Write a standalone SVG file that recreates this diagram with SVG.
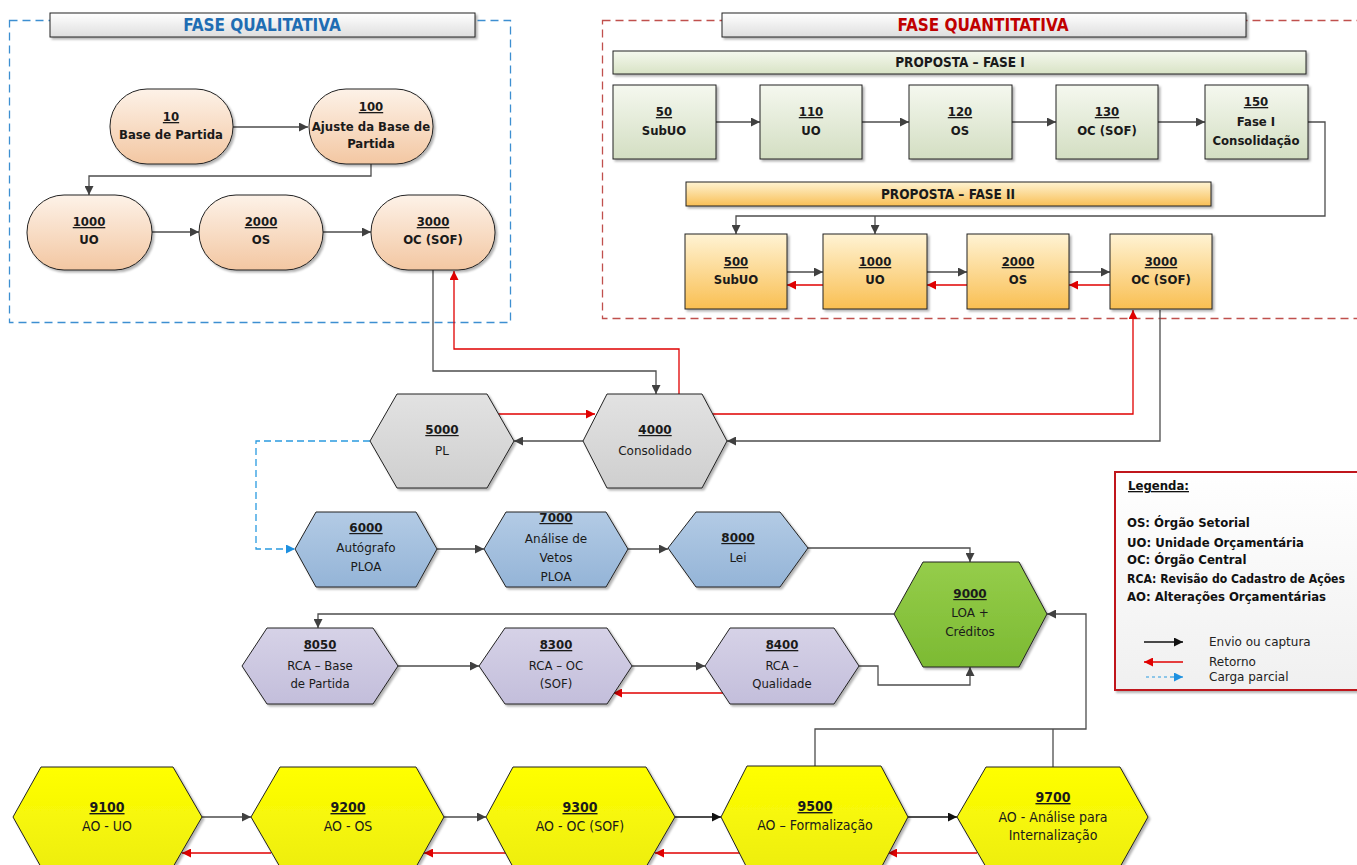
<svg xmlns="http://www.w3.org/2000/svg" width="1357" height="865" viewBox="0 0 1357 865">
<style>
.b{font-family:'Liberation Sans Narrow','DejaVu Sans Condensed','Liberation Sans',sans-serif;font-weight:bold;font-size:13px;fill:#1a1a1a;text-anchor:middle}
.n{font-family:'DejaVu Sans','Liberation Sans',sans-serif;font-size:12px;fill:#1a1a1a;text-anchor:middle}
.nn{font-family:'Liberation Sans Narrow','DejaVu Sans Condensed','Liberation Sans',sans-serif;font-size:13px;fill:#1a1a1a;text-anchor:middle}
.ny{font-family:'Liberation Sans Narrow','DejaVu Sans Condensed','Liberation Sans',sans-serif;font-size:14px;fill:#1a1a1a;text-anchor:middle}
.u{text-decoration:underline;font-weight:bold}
.sh{stroke:#222;stroke-width:1;filter:url(#ds)}
.c{fill:none;stroke:#4d4d4d;stroke-width:1.3}
.r{fill:none;stroke:#e00000;stroke-width:1.3}
.bl{fill:none;stroke:#2a9be0;stroke-width:1.3;stroke-dasharray:7 4}
.lg{font-family:'Liberation Sans Narrow','DejaVu Sans Condensed','Liberation Sans',sans-serif;font-weight:bold;font-size:13px;fill:#111}
.lt{font-family:'DejaVu Sans','Liberation Sans',sans-serif;font-size:12px;fill:#222}
.tt{font-family:'Liberation Sans Narrow','DejaVu Sans Condensed','Liberation Sans',sans-serif;font-weight:bold;font-size:17px;text-anchor:middle}
</style>
<defs>
<filter id="ds" x="-10%" y="-10%" width="130%" height="130%"><feDropShadow dx="2" dy="2" stdDeviation="1.2" flood-color="#000" flood-opacity="0.3"/></filter>
<linearGradient id="gPeach" x1="0" y1="0" x2="0" y2="1"><stop offset="0" stop-color="#fdf2e8"/><stop offset="1" stop-color="#f3c7a2"/></linearGradient>
<linearGradient id="gGreenBox" x1="0" y1="0" x2="0" y2="1"><stop offset="0" stop-color="#f5f8ef"/><stop offset="1" stop-color="#d3dec2"/></linearGradient>
<linearGradient id="gOrange" x1="0" y1="0" x2="0" y2="1"><stop offset="0" stop-color="#fff3d4"/><stop offset="1" stop-color="#f9bf52"/></linearGradient>
<linearGradient id="gTitle" x1="0" y1="0" x2="0" y2="1"><stop offset="0" stop-color="#ffffff"/><stop offset="1" stop-color="#dedede"/></linearGradient>
<linearGradient id="gBar1" x1="0" y1="0" x2="0" y2="1"><stop offset="0" stop-color="#f5f8ee"/><stop offset="1" stop-color="#d8e3c5"/></linearGradient>
<linearGradient id="gBar2" x1="0" y1="0" x2="0" y2="1"><stop offset="0" stop-color="#fef3d2"/><stop offset="1" stop-color="#f9bf55"/></linearGradient>
<linearGradient id="gGray" x1="0" y1="0" x2="0" y2="1"><stop offset="0" stop-color="#e2e2e2"/><stop offset="1" stop-color="#cfcfcf"/></linearGradient>
<linearGradient id="gBlue" x1="0" y1="0" x2="0" y2="1"><stop offset="0" stop-color="#b3cbe5"/><stop offset="1" stop-color="#94b4d7"/></linearGradient>
<linearGradient id="gLav" x1="0" y1="0" x2="0" y2="1"><stop offset="0" stop-color="#d6d2e7"/><stop offset="1" stop-color="#c3bedb"/></linearGradient>
<linearGradient id="gLime" x1="0" y1="0" x2="0" y2="1"><stop offset="0" stop-color="#95cd4a"/><stop offset="1" stop-color="#7cba33"/></linearGradient>
<linearGradient id="gYel" x1="0" y1="0" x2="0" y2="1"><stop offset="0" stop-color="#ffff00"/><stop offset="1" stop-color="#eeee10"/></linearGradient>
<linearGradient id="gLeg" x1="0" y1="0" x2="0" y2="1"><stop offset="0" stop-color="#ffffff"/><stop offset="1" stop-color="#f0f0f0"/></linearGradient>
<marker id="aK" viewBox="0 0 10 10" refX="10" refY="5" markerWidth="10" markerHeight="9" markerUnits="userSpaceOnUse" orient="auto"><path d="M0,0 L10,5 L0,10 z" fill="#404040"/></marker>
<marker id="aB" viewBox="0 0 10 10" refX="10" refY="5" markerWidth="10" markerHeight="9" markerUnits="userSpaceOnUse" orient="auto"><path d="M0,0 L10,5 L0,10 z" fill="#111"/></marker>
<marker id="aR" viewBox="0 0 10 10" refX="10" refY="5" markerWidth="11" markerHeight="9" markerUnits="userSpaceOnUse" orient="auto"><path d="M0,0 L10,5 L0,10 z" fill="#e00000"/></marker>
<marker id="aL" viewBox="0 0 10 10" refX="10" refY="5" markerWidth="11" markerHeight="9" markerUnits="userSpaceOnUse" orient="auto"><path d="M0,0 L10,5 L0,10 z" fill="#1e90e0"/></marker>
</defs>
<rect width="1357" height="865" fill="#ffffff"/>

<g id="containers">
<rect x="9.5" y="20.5" width="501" height="302" fill="none" stroke="#3d8fd1" stroke-width="1.3" stroke-dasharray="8 5"/>
<rect x="602.5" y="20.5" width="770" height="298" fill="none" stroke="#c0504d" stroke-width="1.3" stroke-dasharray="8 5"/>
</g>

<g id="title-qual">
<rect x="50" y="13" width="425" height="24" fill="url(#gTitle)" class="sh"/>
<text x="262" y="31" class="tt" style="fill:#1f6db3">FASE QUALITATIVA</text>
</g>
<g id="title-quant">
<rect x="722" y="13" width="524" height="24" fill="url(#gTitle)" class="sh"/>
<text x="983" y="31" class="tt" style="fill:#c00000">FASE QUANTITATIVA</text>
</g>
<g id="bar-fase1">
<rect x="613" y="51" width="693" height="23" fill="url(#gBar1)" class="sh"/>
<text x="960" y="67" class="b" style="font-size:13.5px">PROPOSTA – FASE I</text>
</g>
<g id="bar-fase2">
<rect x="686" y="182" width="525" height="24" fill="url(#gBar2)" class="sh"/>
<text x="948" y="199" class="b" style="font-size:13.5px">PROPOSTA – FASE II</text>
</g>

<g id="connectors">
<path class="c" d="M233,127 H308" marker-end="url(#aK)"/>
<path class="c" d="M371,164 V176 H89 V195" marker-end="url(#aK)"/>
<path class="c" d="M152,232 H199" marker-end="url(#aK)"/>
<path class="c" d="M323,232 H371" marker-end="url(#aK)"/>
<path class="c" d="M716,122 H760" marker-end="url(#aK)"/>
<path class="c" d="M862,122 H909" marker-end="url(#aK)"/>
<path class="c" d="M1012,122 H1056" marker-end="url(#aK)"/>
<path class="c" d="M1158,122 H1205" marker-end="url(#aK)"/>
<path class="c" d="M1308,122 H1325 V216 H736 V234" marker-end="url(#aK)"/>
<path class="c" d="M875,216 V234" marker-end="url(#aK)"/>
<path class="c" d="M787,272 H823" marker-end="url(#aK)"/>
<path class="c" d="M927,272 H967" marker-end="url(#aK)"/>
<path class="c" d="M1069,272 H1110" marker-end="url(#aK)"/>
<path class="r" d="M823,285 H787" marker-end="url(#aR)"/>
<path class="r" d="M967,285 H927" marker-end="url(#aR)"/>
<path class="r" d="M1110,285 H1069" marker-end="url(#aR)"/>
<path class="c" d="M433,270 V371 H656 V394" marker-end="url(#aK)"/>
<path class="r" d="M679,394 V349 H454 V271" marker-end="url(#aR)"/>
<path class="c" d="M1160,310 V441 H727" marker-end="url(#aK)"/>
<path class="r" d="M710,414 H1133 V310" marker-end="url(#aR)"/>
<path class="r" d="M498,414 H595" marker-end="url(#aR)"/>
<path class="c" d="M583,441 H514" marker-end="url(#aK)"/>
<path class="bl" d="M370,441 H256 V549 H295" marker-end="url(#aL)"/>
<path class="c" d="M437,549 H484" marker-end="url(#aK)"/>
<path class="c" d="M628,549 H668" marker-end="url(#aK)"/>
<path class="c" d="M808,548 H970 V562" marker-end="url(#aK)"/>
<path class="c" d="M894,614 H318 V628" marker-end="url(#aK)"/>
<path class="c" d="M398,666 H479" marker-end="url(#aK)"/>
<path class="c" d="M632,666 H705" marker-end="url(#aK)"/>
<path class="r" d="M723,693 H613" marker-end="url(#aR)"/>
<path class="c" d="M859,666 H878 V685 H970 V667" marker-end="url(#aK)"/>
<path class="c" d="M815,766 V729 H1086 V614 H1047" marker-end="url(#aK)"/>
<path class="c" d="M1053,767 V729"/>
<path class="c" d="M202,817 H251" marker-end="url(#aK)"/>
<path class="c" d="M444,817 H486" marker-end="url(#aK)"/>
<path d="M675,817 H721" fill="none" stroke="#111" stroke-width="1.3" marker-end="url(#aB)"/>
<path d="M908,817 H957" fill="none" stroke="#111" stroke-width="1.3" marker-end="url(#aB)"/>
<path class="r" d="M271,853 H182" marker-end="url(#aR)"/>
<path class="r" d="M506,853 H424" marker-end="url(#aR)"/>
<path class="r" d="M741,853 H655" marker-end="url(#aR)"/>
<path class="r" d="M977,853 H888" marker-end="url(#aR)"/>
</g>

<g id="n10"><rect x="110" y="89" width="123" height="75" rx="37" fill="url(#gPeach)" class="sh"/>
<text x="171" y="121" class="b u">10</text><text x="171" y="139" class="b">Base de Partida</text></g>
<g id="n100"><rect x="309" y="89" width="124" height="75" rx="37" fill="url(#gPeach)" class="sh"/>
<text x="371" y="111" class="b u">100</text><text x="371" y="131" class="b">Ajuste da Base de</text><text x="371" y="148" class="b">Partida</text></g>
<g id="q1000"><rect x="27" y="195" width="125" height="75" rx="37" fill="url(#gPeach)" class="sh"/>
<text x="89" y="226" class="b u">1000</text><text x="89" y="244" class="b">UO</text></g>
<g id="q2000"><rect x="199" y="195" width="124" height="75" rx="37" fill="url(#gPeach)" class="sh"/>
<text x="261" y="226" class="b u">2000</text><text x="261" y="244" class="b">OS</text></g>
<g id="q3000"><rect x="371" y="195" width="124" height="75" rx="37" fill="url(#gPeach)" class="sh"/>
<text x="433" y="226" class="b u">3000</text><text x="433" y="244" class="b">OC (SOF)</text></g>

<g id="p50"><rect x="613" y="85" width="103" height="74" fill="url(#gGreenBox)" class="sh"/>
<text x="664" y="116" class="b u">50</text><text x="664" y="135" class="b">SubUO</text></g>
<g id="p110"><rect x="760" y="85" width="102" height="74" fill="url(#gGreenBox)" class="sh"/>
<text x="811" y="116" class="b u">110</text><text x="811" y="135" class="b">UO</text></g>
<g id="p120"><rect x="909" y="85" width="103" height="74" fill="url(#gGreenBox)" class="sh"/>
<text x="960" y="116" class="b u">120</text><text x="960" y="135" class="b">OS</text></g>
<g id="p130"><rect x="1056" y="85" width="102" height="74" fill="url(#gGreenBox)" class="sh"/>
<text x="1107" y="116" class="b u">130</text><text x="1107" y="135" class="b">OC (SOF)</text></g>
<g id="p150"><rect x="1205" y="85" width="103" height="74" fill="url(#gGreenBox)" class="sh"/>
<text x="1256" y="106" class="b u">150</text><text x="1256" y="126" class="b">Fase I</text><text x="1256" y="145" class="b">Consolidação</text></g>

<g id="p500"><rect x="685" y="234" width="102" height="75" fill="url(#gOrange)" class="sh"/>
<text x="736" y="266" class="b u">500</text><text x="736" y="284" class="b">SubUO</text></g>
<g id="p1000"><rect x="823" y="234" width="104" height="75" fill="url(#gOrange)" class="sh"/>
<text x="875" y="266" class="b u">1000</text><text x="875" y="284" class="b">UO</text></g>
<g id="p2000"><rect x="967" y="234" width="102" height="75" fill="url(#gOrange)" class="sh"/>
<text x="1018" y="266" class="b u">2000</text><text x="1018" y="284" class="b">OS</text></g>
<g id="p3000"><rect x="1110" y="234" width="102" height="75" fill="url(#gOrange)" class="sh"/>
<text x="1161" y="266" class="b u">3000</text><text x="1161" y="284" class="b">OC (SOF)</text></g>

<g id="h5000"><polygon points="370,441 397,394 487,394 514,441 487,488 397,488" fill="url(#gGray)" class="sh"/>
<text x="442" y="434" class="n u">5000</text><text x="442" y="455" class="n">PL</text></g>
<g id="h4000"><polygon points="583,441 607,394 702,394 727,441 702,488 607,488" fill="url(#gGray)" class="sh"/>
<text x="655" y="434" class="n u">4000</text><text x="655" y="455" class="n">Consolidado</text></g>

<g id="h6000"><polygon points="295,549 316,512 416,512 437,549 416,587 316,587" fill="url(#gBlue)" class="sh"/>
<text x="366" y="532" class="n u">6000</text><text x="366" y="552" class="n">Autógrafo</text><text x="366" y="571" class="n">PLOA</text></g>
<g id="h7000"><polygon points="484,549 506,512 606,512 628,549 606,587 506,587" fill="url(#gBlue)" class="sh"/>
<text x="556" y="522" class="n u">7000</text><text x="556" y="543" class="n">Análise de</text><text x="556" y="562" class="n">Vetos</text><text x="556" y="581" class="n">PLOA</text></g>
<g id="h8000"><polygon points="668,548 696,512 780,512 808,548 780,587 696,587" fill="url(#gBlue)" class="sh"/>
<text x="738" y="542" class="n u">8000</text><text x="738" y="562" class="n">Lei</text></g>

<g id="h9000"><polygon points="894,614 923,562 1019,562 1047,614 1019,667 923,667" fill="url(#gLime)" class="sh"/>
<text x="970" y="598" class="n u">9000</text><text x="970" y="617" class="n">LOA +</text><text x="970" y="636" class="n">Créditos</text></g>

<g id="h8050"><polygon points="242,666 267,628 373,628 398,666 373,704 267,704" fill="url(#gLav)" class="sh"/>
<text x="320" y="649" class="nn u">8050</text><text x="320" y="670" class="nn">RCA – Base</text><text x="320" y="688" class="nn">de Partida</text></g>
<g id="h8300"><polygon points="479,666 505,628 607,628 632,666 607,704 505,704" fill="url(#gLav)" class="sh"/>
<text x="556" y="649" class="nn u">8300</text><text x="556" y="670" class="nn">RCA – OC</text><text x="556" y="688" class="nn">(SOF)</text></g>
<g id="h8400"><polygon points="705,666 730,628 834,628 859,666 834,704 730,704" fill="url(#gLav)" class="sh"/>
<text x="782" y="649" class="nn u">8400</text><text x="782" y="670" class="nn">RCA –</text><text x="782" y="688" class="nn">Qualidade</text></g>

<g id="h9100"><polygon points="13,817 41,767 173,767 202,817 173,867 41,867" fill="url(#gYel)" class="sh"/>
<text x="107" y="812" class="ny u">9100</text><text x="107" y="831" class="ny">AO - UO</text></g>
<g id="h9200"><polygon points="251,817 280,767 416,767 444,817 416,867 280,867" fill="url(#gYel)" class="sh"/>
<text x="348" y="812" class="ny u">9200</text><text x="348" y="831" class="ny">AO - OS</text></g>
<g id="h9300"><polygon points="486,817 513,767 646,767 675,817 646,867 513,867" fill="url(#gYel)" class="sh"/>
<text x="580" y="812" class="ny u">9300</text><text x="580" y="831" class="ny">AO - OC (SOF)</text></g>
<g id="h9500"><polygon points="721,817 747,766 881,766 908,817 881,868 747,868" fill="url(#gYel)" class="sh"/>
<text x="815" y="811" class="ny u">9500</text><text x="815" y="830" class="ny">AO – Formalização</text></g>
<g id="h9700"><polygon points="957,817 986,767 1120,767 1148,817 1120,867 986,867" fill="url(#gYel)" class="sh"/>
<text x="1053" y="802" class="ny u">9700</text><text x="1053" y="822" class="ny">AO - Análise para</text><text x="1053" y="840" class="ny">Internalização</text></g>

<g id="legend">
<rect x="1115" y="472" width="260" height="218" fill="url(#gLeg)" stroke="#c0161c" stroke-width="2" filter="url(#ds)"/>
<text x="1128" y="490" class="lg" style="text-decoration:underline">Legenda:</text>
<text x="1127" y="527" class="lg">OS: Órgão Setorial</text>
<text x="1127" y="547" class="lg">UO: Unidade Orçamentária</text>
<text x="1127" y="564" class="lg">OC: Órgão Central</text>
<text x="1127" y="583" class="lg" style="font-size:12px" textLength="218" lengthAdjust="spacingAndGlyphs">RCA: Revisão do Cadastro de Ações</text>
<text x="1127" y="601" class="lg">AO: Alterações Orçamentárias</text>
<path d="M1144,642 H1183" fill="none" stroke="#111" stroke-width="1.3" marker-end="url(#aB)"/>
<path class="r" d="M1183,662 H1144" marker-end="url(#aR)"/>
<path d="M1146,677 H1170" fill="none" stroke="#2a9be0" stroke-width="1.2" stroke-dasharray="3 3"/>
<path d="M1170,677 H1183" fill="none" stroke="#2a9be0" stroke-width="1.2" marker-end="url(#aL)"/>
<text x="1209" y="646" class="lt">Envio ou captura</text>
<text x="1209" y="666" class="lt">Retorno</text>
<text x="1209" y="681" class="lt">Carga parcial</text>
</g>
</svg>
